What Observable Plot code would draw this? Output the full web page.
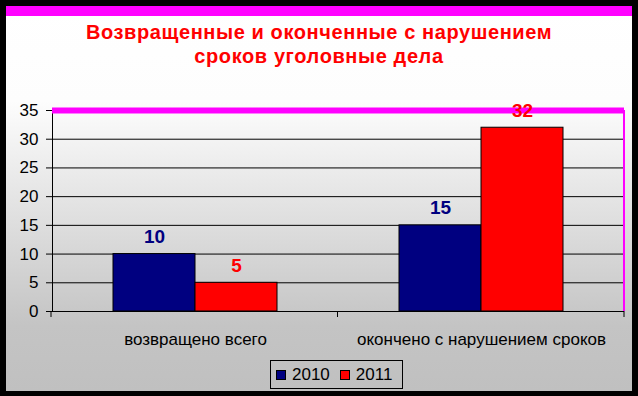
<!DOCTYPE html>
<html><head><meta charset="utf-8">
<script src="https://cdn.jsdelivr.net/npm/d3@7"></script>
<script src="https://cdn.jsdelivr.net/npm/@observablehq/plot@0.6"></script>
<style>
html,body{margin:0;padding:0;background:#000;width:638px;height:396px;overflow:hidden;font-family:"Liberation Sans",Arial,sans-serif;}
#panel{position:absolute;left:6px;top:6px;width:626px;height:385px;background:linear-gradient(to bottom,#fff 0px,#fdfdfd 95px,#c4c4c4 320px,#c0c0c0 385px);}
#strip{position:absolute;left:6px;top:6px;width:626px;height:10px;background:#ff00ff;}
#title{position:absolute;left:6px;top:20px;width:626px;text-align:center;color:#f00;font-weight:bold;font-size:20px;line-height:24px;letter-spacing:0.6px;}
#chart{position:absolute;left:0;top:80px;}
#legend{position:absolute;left:270px;top:360px;width:131px;height:27px;border:1px solid #000;display:flex;align-items:center;font-size:17px;color:#000;}
#legend .sw{display:inline-block;width:8px;height:8px;border:1px solid #000;margin-left:5px;margin-right:6px;}
#legend .lab{margin-right:5px;}
</style></head>
<body>
<div id="panel"></div>
<div id="strip"></div>
<div id="title">Возвращенные и оконченные с нарушением<br>сроков уголовные дела</div>
<div id="chart"></div>
<div id="legend"></div>
<script>
const categories = ["возвращено всего", "окончено с нарушением сроков"];
const years = ["2010", "2011"];
const values2010 = [10, 15];
const values2011 = [5, 32];
const yTicks = [0, 5, 10, 15, 20, 25, 30, 35];
const colors = ["#000080", "#ff0000"];

const data = categories.flatMap((c, i) => [
  {category: c, year: years[0], value: values2010[i]},
  {category: c, year: years[1], value: values2011[i]}
]);

const plot = Plot.plot({
  width: 638,
  height: 275,
  marginLeft: 51,
  marginRight: 14,
  marginTop: 30,
  marginBottom: 44,
  style: {background: "none", color: "#000", fontFamily: "'Liberation Sans', Arial, sans-serif", fontSize: "17px", overflow: "visible"},
  fx: {domain: categories, padding: 0, axis: "bottom", tickSize: 0, tickPadding: 21, label: null},
  x: {domain: years, paddingInner: 0, paddingOuter: 0.74, axis: null},
  y: {domain: [0, 35], ticks: yTicks, tickSize: 6, tickPadding: 8, line: true, label: null, grid: false},
  color: {domain: years, range: colors},
  marks: [
    Plot.ruleY(yTicks.filter(t => t > 0 && t < 35), {stroke: "#000", strokeWidth: 1}),
    Plot.ruleY([35], {stroke: "#ff00ff", strokeWidth: 6}),
    Plot.barY(data, {fx: "category", x: "year", y: "value", fill: "year", stroke: "#000", strokeWidth: 1}),
    Plot.ruleY([0], {stroke: "#000", strokeWidth: 1}),
    Plot.text(data, {fx: "category", x: "year", y: "value", text: d => String(d.value), dy: -17, fill: "year", fontWeight: "bold", fontSize: 19, lineAnchor: "middle"})
  ]
});

// category boundary ticks and right border, positioned from the plot's own scales
const fxS = plot.scale("fx");
const yS = plot.scale("y");
const yScale = d3.scaleLinear(yS.domain, yS.range);
const y0 = yScale(0), yTop = yScale(35);
const [r0, r1] = fxS.range;
const n = fxS.domain.length;
const edges = d3.range(n + 1).map(i => r0 + i * (r1 - r0) / n);
const svg = d3.select(plot);
svg.append("line").attr("x1", r1).attr("x2", r1).attr("y1", yTop).attr("y2", y0)
  .attr("stroke", "#ff00ff").attr("stroke-width", 2);
svg.selectAll("line.edge").data(edges).join("line").attr("class", "edge")
  .attr("x1", d => d).attr("x2", d => d).attr("y1", y0).attr("y2", y0 + 6)
  .attr("stroke", "#000").attr("stroke-width", 1);

document.getElementById("chart").appendChild(plot);

const legend = document.getElementById("legend");
years.forEach((yr, i) => {
  const sw = document.createElement("span");
  sw.className = "sw";
  sw.style.background = colors[i];
  const lab = document.createElement("span");
  lab.className = "lab";
  lab.textContent = yr;
  legend.appendChild(sw);
  legend.appendChild(lab);
});
</script>
</body></html>
